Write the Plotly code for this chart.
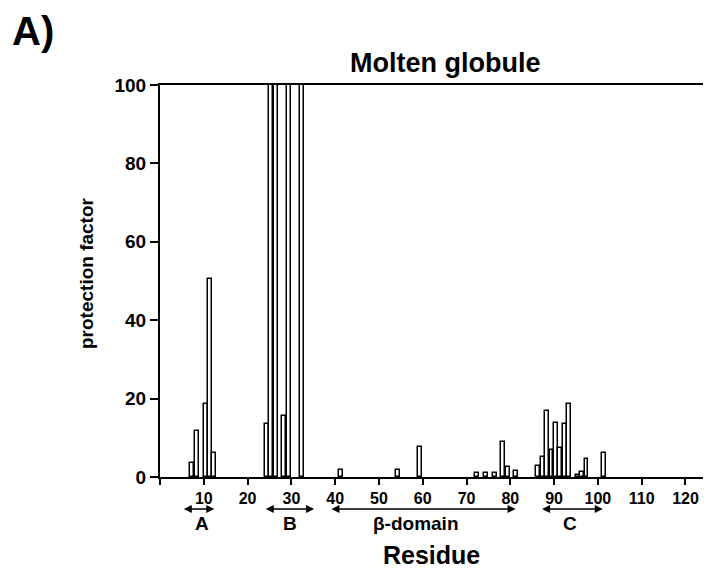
import plotly.graph_objects as go

# ---- data ----
residues = [7, 8, 10, 11, 12,
            24, 25, 26, 28, 29, 32,
            41, 54, 59, 72, 74, 76, 78, 79, 81,
            86, 87, 88, 89, 90, 91, 92, 93, 95, 96, 97, 101]
protection = [3.7, 11.7, 18.5, 50.4, 6.1,
              13.4, 100, 100, 15.6, 100, 100,
              1.8, 1.9, 7.7, 0.9, 0.9, 1.0, 9.0, 2.6, 1.5,
              2.7, 5.1, 16.9, 7.0, 13.7, 7.5, 13.6, 18.5, 0.4, 1.3, 4.5, 6.1]

x_ticks = [0, 10, 20, 30, 40, 50, 60, 70, 80, 90, 100, 110, 120]
x_tick_text = ["", "10", "20", "30", "40", "50", "60", "70", "80", "90", "100", "110", "120"]
y_ticks = [0, 20, 40, 60, 80, 100]

domain_labels = ["A", "B", "β-domain", "C"]
domain_start = [5.1, 23.8, 38.8, 86.9]
domain_end = [12.4, 35.2, 81.2, 101.1]
domain_label_x = [9.6, 29.7, 58.4, 93.7]

FONT = "Liberation Sans, Arial, Helvetica, sans-serif"

X_RANGE = [0, 124]
PLOT_W = 543.0
PLOT_H = 392.0
PX_PER_UNIT = PLOT_W / (X_RANGE[1] - X_RANGE[0])

fig = go.Figure()
fig.add_trace(go.Bar(
    x=residues, y=protection,
    width=0.9, offset=-0.05,
    marker=dict(color="white", line=dict(color="black", width=1.5)),
    showlegend=False,
))

def py(pixel_y):
    # page pixel y -> paper coordinate (plot area top=85, bottom=477)
    return (477.0 - pixel_y) / PLOT_H

def bold(t):
    return "<b>" + t + "</b>"

annotations = []
for lab, s, e, lx in zip(domain_labels, domain_start, domain_end, domain_label_x):
    annotations.append(dict(
        x=e, y=py(509), xref="x", yref="paper",
        ax=-(e - s) * PX_PER_UNIT, ay=0, axref="pixel", ayref="pixel",
        text="", showarrow=True, arrowside="end+start",
        arrowhead=2, arrowsize=1.0, arrowwidth=1.6, arrowcolor="black",
        standoff=0, startstandoff=0,
    ))
    annotations.append(dict(
        x=lx, y=py(523), xref="x", yref="paper",
        text=bold(lab), showarrow=False, yanchor="middle", xanchor="center",
        font=dict(family=FONT, size=19, color="black"),
    ))

annotations.append(dict(
    x=0.5, y=py(555), xref="paper", yref="paper",
    text=bold("Residue"), showarrow=False, xanchor="center", yanchor="middle",
    font=dict(family=FONT, size=25, color="black"),
))
annotations.append(dict(
    x=(86 - 160) / PLOT_W, y=py(273), xref="paper", yref="paper",
    text=bold("protection factor"), showarrow=False, textangle=-90,
    xanchor="center", yanchor="middle",
    font=dict(family=FONT, size=19, color="black"),
))
annotations.append(dict(
    x=(445 - 160) / PLOT_W, y=py(63), xref="paper", yref="paper",
    text=bold("Molten globule"), showarrow=False, xanchor="center", yanchor="middle",
    font=dict(family=FONT, size=27, color="black"),
))
annotations.append(dict(
    x=(10 - 160) / PLOT_W, y=py(31), xref="paper", yref="paper",
    text=bold("A)"), showarrow=False, xanchor="left", yanchor="middle",
    font=dict(family=FONT, size=40, color="black"),
))

fig.update_layout(
    width=708, height=571,
    margin=dict(l=160, r=5, t=85, b=94),
    paper_bgcolor="white", plot_bgcolor="white",
    bargap=0,
    annotations=annotations,
    font=dict(family=FONT, color="black"),
)
fig.update_xaxes(
    range=X_RANGE, tickvals=x_ticks, ticktext=[bold(t) if t else t for t in x_tick_text],
    showline=True, linecolor="black", linewidth=2, mirror=True,
    ticks="outside", ticklen=6, tickwidth=2, tickcolor="black",
    showgrid=False, zeroline=False,
    tickfont=dict(family=FONT, size=16, color="black"),
)
fig.update_yaxes(
    range=[0, 100], tickvals=y_ticks, ticktext=[bold(str(v)) for v in y_ticks],
    showline=True, linecolor="black", linewidth=2,
    ticks="outside", ticklen=8, tickwidth=2, tickcolor="black",
    showgrid=False, zeroline=False,
    tickfont=dict(family=FONT, size=19, color="black"),
)

fig.write_html("out.html")
